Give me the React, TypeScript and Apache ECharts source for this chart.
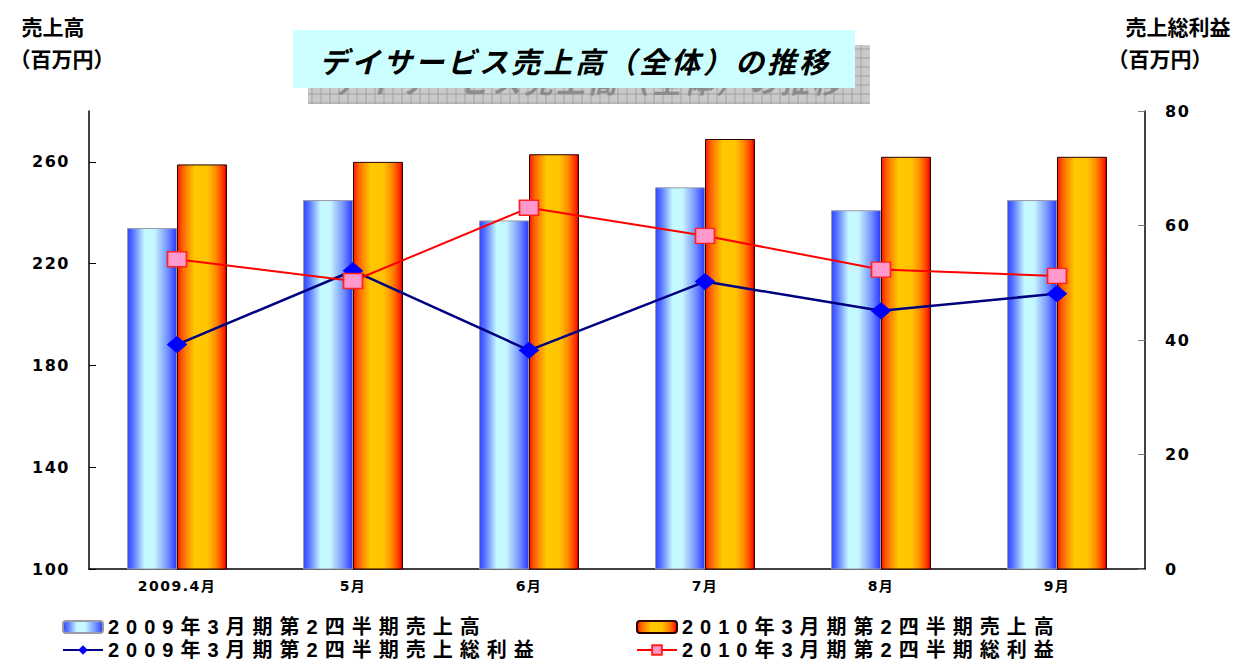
import React, { useEffect, useRef } from 'react';
import * as echarts from 'echarts';

const categories = ['2009.4月', '5月', '6月', '7月', '8月', '9月'];
const sales2009 = [234, 245, 237, 250, 241, 245];
const sales2010 = [259, 260, 263, 269, 262, 262];
const profit2009 = [39.2, 52.1, 38.2, 50.2, 45.1, 48.1];
const profit2010 = [54.1, 50.3, 63.1, 58.2, 52.3, 51.2];
const leftTicks = [100, 140, 180, 220, 260];
const rightTicks = [0, 20, 40, 60, 80];
const seriesNames = [
  '2009年3月期第2四半期売上高',
  '2010年3月期第2四半期売上高',
  '2009年3月期第2四半期売上総利益',
  '2010年3月期第2四半期総利益',
];
const titleText = 'デイサービス売上高（全体）の推移';
const leftAxisName = ['売上高', '（百万円）'];
const rightAxisName = ['売上総利益', '（百万円）'];

const NM = '"Noto Sans CJK JP", nmfont, sans-serif';
const NUM = '"DejaVu Sans", "Noto Sans CJK JP", axfont, sans-serif';
const LG = '"Liberation Sans", "Noto Sans CJK JP", lgfont, sans-serif';
const TT = '"Noto Sans CJK JP", ttfont, sans-serif';

const css = `
text[style*="lgfont"], text[font-family*="lgfont"] { letter-spacing: 7px; }
text[style*="axfont"], text[font-family*="axfont"] { letter-spacing: 1.5px; }
text[style*="ttfont"], text[font-family*="ttfont"] { letter-spacing: 3px; }
`;

export default function App() {
  const ref = useRef<HTMLDivElement>(null);
  useEffect(() => {
    if (!ref.current) return;
    const chart = echarts.init(ref.current, null, { renderer: 'svg' });

    const blueGrad = new echarts.graphic.LinearGradient(0, 0, 1, 0, [
      { offset: 0, color: '#3344ff' },
      { offset: 0.12, color: '#5a78ff' },
      { offset: 0.35, color: '#c4fbff' },
      { offset: 0.55, color: '#c8f6ff' },
      { offset: 0.82, color: '#7090ff' },
      { offset: 1, color: '#2a38ff' },
    ]);
    const orangeGrad = new echarts.graphic.LinearGradient(0, 0, 1, 0, [
      { offset: 0, color: '#ff1a00' },
      { offset: 0.12, color: '#ff6a00' },
      { offset: 0.35, color: '#ffc800' },
      { offset: 0.62, color: '#ffc400' },
      { offset: 0.82, color: '#ff7a00' },
      { offset: 0.95, color: '#ff2400' },
      { offset: 1, color: '#b00000' },
    ]);

    // title decoration
    const sx = 308, sy = 45, sw = 562, sh = 59;
    const gridLines: any[] = [];
    for (let x = sx + 4; x < sx + sw; x += 9) {
      gridLines.push({
        type: 'line', silent: true, z: 1,
        shape: { x1: x, y1: sy, x2: x, y2: sy + sh },
        style: { stroke: '#a0a0a0', lineWidth: 1 },
      });
    }
    for (let y = sy + 4; y < sy + sh; y += 9) {
      gridLines.push({
        type: 'line', silent: true, z: 1,
        shape: { x1: sx, y1: y, x2: sx + sw, y2: y },
        style: { stroke: '#a0a0a0', lineWidth: 1 },
      });
    }

    const nameStyle = { fontSize: 21, fontWeight: 'bold', fontFamily: NM, fill: '#000000', align: 'center', verticalAlign: 'middle' };

    chart.setOption({
      animation: false,
      backgroundColor: '#ffffff',
      grid: { left: 89, right: 88, top: 111, bottom: 92, containLabel: false },
      graphic: [
        { type: 'rect', z: 0, silent: true, shape: { x: sx, y: sy, width: sw, height: sh }, style: { fill: '#cacaca' } },
        ...gridLines,
        {
          type: 'text', z: 2, silent: true, x: 588, y: 80,
          style: { text: titleText, fontSize: 29, fontWeight: 'bold', fontStyle: 'italic', fontFamily: TT, fill: '#8c8c8c', align: 'center', verticalAlign: 'middle' },
        },
        { type: 'rect', z: 3, silent: true, shape: { x: 293, y: 30, width: 562, height: 58 }, style: { fill: '#ccffff' } },
        {
          type: 'text', z: 4, silent: true, x: 575, y: 60,
          style: { text: titleText, fontSize: 29, fontWeight: 'bold', fontStyle: 'italic', fontFamily: TT, fill: '#000000', align: 'center', verticalAlign: 'middle' },
        },
        { type: 'text', z: 4, silent: true, x: 53, y: 26, style: { text: leftAxisName[0], ...nameStyle } },
        { type: 'text', z: 4, silent: true, x: 62, y: 58, style: { text: leftAxisName[1], ...nameStyle } },
        { type: 'text', z: 4, silent: true, x: 1178, y: 26, style: { text: rightAxisName[0], ...nameStyle } },
        { type: 'text', z: 4, silent: true, x: 1160, y: 58, style: { text: rightAxisName[1], ...nameStyle } },
      ],
      legend: [
        {
          orient: 'vertical', left: 62, top: 617, padding: 0, itemGap: 3, itemWidth: 40, itemHeight: 12,
          data: [seriesNames[0], seriesNames[2]],
          textStyle: { fontSize: 20, lineHeight: 20, fontWeight: 'bold', fontFamily: LG, color: '#000' },
        },
        {
          orient: 'vertical', left: 636, top: 617, padding: 0, itemGap: 3, itemWidth: 40, itemHeight: 12,
          data: [seriesNames[1], seriesNames[3]],
          textStyle: { fontSize: 20, lineHeight: 20, fontWeight: 'bold', fontFamily: LG, color: '#000' },
        },
      ],
      xAxis: {
        type: 'category',
        data: categories,
        boundaryGap: true,
        axisLine: { lineStyle: { color: '#000', width: 1.5 } },
        axisTick: { inside: true, length: 5, lineStyle: { color: '#808080' } },
        axisLabel: { fontSize: 14, fontWeight: 'bold', fontFamily: NUM, color: '#000', margin: 10 },
        splitLine: { show: false },
      },
      yAxis: [
        {
          type: 'value', min: 100, max: 280, interval: 20, position: 'left',
          axisLine: { show: true, lineStyle: { color: '#000', width: 1.5 } },
          axisTick: { show: true, inside: true, length: 7, customValues: leftTicks, lineStyle: { color: '#000' } },
          axisLabel: { customValues: leftTicks, fontSize: 16, fontWeight: 'bold', fontFamily: NUM, color: '#000', margin: 19 },
          splitLine: { show: false },
        },
        {
          type: 'value', min: 0, max: 80, interval: 20, position: 'right',
          axisLine: { show: true, lineStyle: { color: '#000', width: 1.5 } },
          axisTick: { show: true, inside: true, length: 7, customValues: rightTicks, lineStyle: { color: '#808080' } },
          axisLabel: { customValues: rightTicks, fontSize: 16, fontWeight: 'bold', fontFamily: NUM, color: '#000', margin: 20 },
          splitLine: { show: false },
        },
      ],
      series: [
        {
          name: seriesNames[0], type: 'bar', yAxisIndex: 0, data: sales2009,
          barWidth: 50, barGap: '0%',
          itemStyle: { color: blueGrad, borderColor: '#9a9aa8', borderWidth: 1 },
          z: 2,
        },
        {
          name: seriesNames[1], type: 'bar', yAxisIndex: 0, data: sales2010,
          barWidth: 50, barGap: '0%',
          itemStyle: { color: orangeGrad, borderColor: '#2a0000', borderWidth: 1 },
          z: 2,
        },
        {
          name: seriesNames[2], type: 'line', yAxisIndex: 1, data: profit2009,
          symbol: 'diamond', symbolSize: [19, 16],
          lineStyle: { color: '#000080', width: 2.5 },
          itemStyle: { color: '#0000ff', borderColor: '#0000ff' },
          z: 5,
        },
        {
          name: seriesNames[3], type: 'line', yAxisIndex: 1, data: profit2010,
          symbol: 'rect', symbolSize: [19, 15],
          lineStyle: { color: '#ff0000', width: 2 },
          itemStyle: { color: '#ff99cc', borderColor: '#ff2020', borderWidth: 1.5 },
          z: 6,
        },
      ],
    });
    return () => chart.dispose();
  }, []);

  return (
    <>
      <style>{css}</style>
      <div
        ref={ref}
        style={{ position: 'fixed', left: 0, top: 0, width: 1233, height: 661, background: '#fff' }}
      />
    </>
  );
}
